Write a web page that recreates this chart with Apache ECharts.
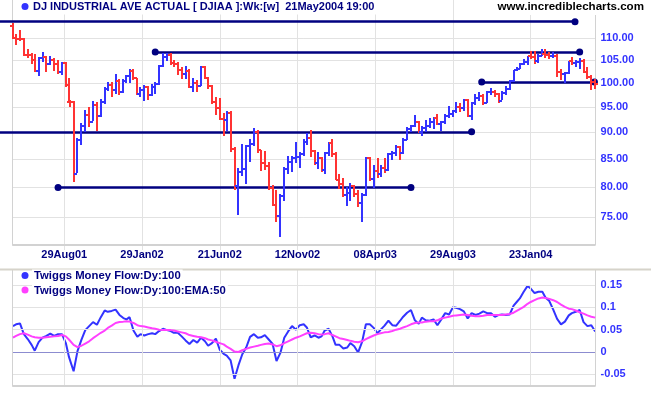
<!DOCTYPE html>
<html><head><meta charset="utf-8">
<script src="https://cdn.jsdelivr.net/npm/echarts@6/dist/echarts.min.js"></script>
<style>html,body{margin:0;padding:0;background:#fff}#c{width:651px;height:395px}</style>
</head><body><div id="c"></div>
<script>
// ---------------- DATA ----------------
const firstDay = '2001-05-21';
const lastDay = '2004-05-21';
const visibleDays = 750;
const holidays = ['2001-05-28','2001-07-04','2001-09-03','2001-09-11','2001-09-12','2001-09-13','2001-09-14',
 '2001-11-22','2001-12-25','2002-01-01','2002-01-21','2002-02-18','2002-03-29','2002-05-27','2002-07-04',
 '2002-09-02','2002-11-28','2002-12-25','2003-01-01','2003-01-20','2003-02-17','2003-04-18','2003-05-26',
 '2003-07-04','2003-09-01','2003-11-27','2003-12-25','2004-01-01','2004-01-19','2004-02-16','2004-04-09'];

const priorClose = 113.01;
const opens = [113.01,110.05,109.90,109.77,106.23,106.04,105.02,102.52,105.39,105.77,
 104.16,105.12,104.16,102.40,104.23,99.49,96.06,96.05,82.36,88.48,
 91.20,93.44,92.05,95.45,93.23,96.08,98.67,99.60,98.52,100.49,
 98.11,100.35,101.37,102.59,100.94,97.71,98.41,99.07,97.44,99.03,
 99.69,103.68,105.72,106.08,104.27,104.04,102.71,101.90,102.57,99.11,
 100.06,99.39,103.53,101.05,99.25,95.89,94.75,92.53,92.43,93.80,
 86.84,80.19,82.64,83.13,87.45,87.78,90.11,86.64,84.27,83.79,
 79.86,77.01,75.28,78.50,83.22,84.43,85.17,85.37,85.79,88.04,
 88.96,86.45,84.33,85.11,83.03,86.01,87.85,85.87,81.31,80.54,
 78.65,79.09,80.18,78.91,77.40,78.59,85.22,81.45,82.77,82.21,
 83.37,83.06,85.83,86.04,87.19,86.01,88.50,90.62,91.17,92.01,
 90.11,90.70,91.19,91.89,92.84,91.53,91.91,93.21,93.48,94.16,
 95.03,94.71,96.45,93.14,95.73,96.75,97.22,95.82,98.01,98.10,
 97.68,96.29,97.82,98.63,100.42,102.78,103.05,104.09,104.58,106.00,
 105.68,104.88,105.93,106.28,106.20,105.84,105.95,102.40,101.86,102.13,
 104.70,104.42,104.52,104.72,102.26,101.18,100.13];
const highs = [113.6,110.9,112.0,110.0,107.6,106.6,106.4,105.7,106.9,106.0,
 106.0,105.4,104.9,104.6,104.5,101.0,96.3,96.1,88.9,91.8,
 94.3,95.0,96.2,96.0,96.6,99.1,100.2,100.1,101.9,100.8,
 100.9,101.8,103.0,103.1,101.0,99.2,99.5,99.4,99.7,100.2,
 103.8,106.6,106.7,106.7,104.9,104.6,103.4,103.6,102.9,101.0,
 100.6,103.6,103.7,101.2,99.5,97.0,96.8,93.8,94.1,94.2,
 87.2,83.3,87.7,87.6,88.7,90.8,90.5,86.7,86.4,84.4,
 80.3,79.5,78.8,83.5,85.5,85.6,88.2,86.3,88.6,89.8,
 90.4,86.6,86.3,85.3,86.3,88.2,88.7,86.2,82.2,81.5,
 80.1,80.8,80.4,79.6,79.0,85.4,85.3,83.9,85.2,83.9,
 85.2,86.0,86.4,87.5,87.3,88.8,91.0,91.4,93.4,92.2,
 91.2,92.3,92.8,93.0,93.5,92.2,93.5,95.1,94.3,95.9,
 95.8,96.6,96.6,96.0,97.7,98.1,97.6,98.3,99.0,98.4,
 97.8,98.3,99.3,100.6,102.8,103.4,104.4,105.3,106.0,107.0,
 107.0,106.3,107.4,107.5,106.8,106.9,106.3,103.0,102.3,104.8,
 105.7,105.1,105.4,105.3,103.4,101.6,100.8];
const lows = [109.9,108.4,109.4,105.9,105.5,104.2,102.3,101.4,104.5,102.3,
 104.0,102.5,101.9,101.7,99.2,95.9,95.0,80.9,82.4,87.5,
 90.1,91.0,92.2,90.3,93.0,95.6,98.3,97.1,97.6,97.5,
 97.8,99.9,100.0,100.6,97.4,97.0,96.1,96.3,97.2,97.6,
 99.5,103.5,104.8,103.9,103.5,101.6,100.9,100.9,99.0,98.0,
 98.1,99.4,100.9,98.6,95.5,93.3,92.4,89.3,90.3,86.3,
 79.6,75.3,82.0,80.6,84.5,87.3,86.1,82.9,83.0,79.5,
 76.9,74.2,71.97,77.6,82.2,82.6,84.2,83.3,85.6,87.5,
 85.4,83.9,83.2,82.7,82.3,85.5,85.3,81.2,79.7,78.4,
 76.9,77.7,78.4,76.6,74.2,78.5,81.0,79.9,81.6,81.7,
 82.5,82.9,84.7,85.5,84.8,85.8,88.4,90.0,91.0,89.8,
 89.2,90.0,90.7,90.6,91.3,90.3,91.6,92.8,92.9,93.8,
 94.0,94.1,92.9,92.4,95.4,96.2,95.3,95.8,97.4,97.1,
 95.7,96.3,97.4,98.5,100.1,102.5,102.9,103.9,104.0,105.3,
 104.2,104.3,105.8,105.5,105.3,105.4,101.3,100.7,100.0,102.0,
 104.0,103.4,102.9,102.2,100.9,98.5,98.6];
const closes = [110.05,109.90,109.77,106.23,106.04,105.02,102.52,105.39,105.77,104.16,
 105.12,104.16,102.40,104.23,99.49,96.06,96.05,82.36,88.48,91.20,
 93.44,92.05,95.45,93.23,96.08,98.67,99.60,98.52,100.49,98.11,
 100.35,101.37,102.59,100.94,97.71,98.41,99.07,97.44,99.03,99.69,
 103.68,105.72,106.08,104.27,104.04,102.71,101.90,102.57,99.11,100.06,
 99.39,103.53,101.05,99.25,95.89,94.75,92.53,92.43,93.80,86.84,
 80.19,82.64,83.13,87.45,87.78,90.11,86.64,84.27,83.79,79.86,
 77.01,75.28,78.50,83.22,84.43,85.17,85.37,85.79,88.04,88.96,
 86.45,84.33,85.11,83.03,86.01,87.85,85.87,81.31,80.54,78.65,
 79.09,80.18,78.91,77.40,78.59,85.22,81.45,82.77,82.21,83.37,
 83.06,85.83,86.04,87.19,86.01,88.50,90.62,91.17,92.01,90.11,
 90.70,91.19,91.89,92.84,91.53,91.91,93.21,93.48,94.16,95.03,
 94.71,96.45,93.14,95.73,96.75,97.22,95.82,98.01,98.10,97.68,
 96.29,97.82,98.63,100.42,102.78,103.05,104.09,104.58,106.00,105.68,
 104.88,105.93,106.28,106.20,105.84,105.95,102.40,101.86,102.13,104.70,
 104.42,104.52,104.72,102.26,101.18,100.13,99.66];

const moneyFlow = [0.058,0.062,0.064,0.040,0.029,0.016,0.003,0.022,0.032,0.036,
 0.041,0.036,0.040,0.040,0.020,-0.011,-0.015,-0.043,0.002,0.027,
 0.049,0.058,0.067,0.061,0.078,0.093,0.090,0.092,0.095,0.083,
 0.076,0.073,0.078,0.048,0.034,0.040,0.037,0.040,0.042,0.040,
 0.047,0.052,0.049,0.047,0.043,0.043,0.035,0.026,0.018,0.027,
 0.021,0.032,0.024,0.014,0.020,0.030,0.005,-0.004,-0.008,-0.019,
 -0.060,-0.030,-0.005,0.010,0.034,0.040,0.032,0.033,0.038,0.028,
 0.018,-0.020,-0.002,0.032,0.046,0.058,0.050,0.060,0.062,0.055,
 0.033,0.037,0.032,0.035,0.048,0.052,0.035,0.016,0.016,0.008,
 0.010,0.020,0.013,-0.001,0.022,0.062,0.062,0.054,0.042,0.050,
 0.059,0.070,0.060,0.059,0.070,0.079,0.088,0.094,0.071,0.063,
 0.077,0.071,0.070,0.073,0.060,0.073,0.087,0.084,0.100,0.099,
 0.096,0.091,0.075,0.087,0.083,0.086,0.091,0.087,0.087,0.079,
 0.083,0.084,0.083,0.084,0.104,0.112,0.120,0.135,0.148,0.142,
 0.132,0.135,0.135,0.122,0.114,0.095,0.074,0.062,0.068,0.082,
 0.087,0.090,0.094,0.067,0.058,0.060,0.046];
const moneyFlowEma = [0.032,0.036,0.040,0.042,0.039,0.035,0.033,0.032,0.032,0.033,
 0.034,0.035,0.036,0.038,0.035,0.028,0.027,0.016,0.011,0.014,
 0.019,0.024,0.031,0.037,0.043,0.048,0.054,0.059,0.065,0.067,
 0.068,0.069,0.068,0.065,0.060,0.058,0.057,0.055,0.053,0.052,
 0.050,0.049,0.049,0.049,0.048,0.046,0.044,0.042,0.038,0.036,
 0.034,0.033,0.031,0.028,0.026,0.023,0.020,0.017,0.012,0.007,
 0.001,0.000,0.004,0.007,0.010,0.012,0.014,0.016,0.018,0.019,
 0.017,0.013,0.015,0.020,0.024,0.028,0.032,0.035,0.039,0.042,
 0.043,0.042,0.040,0.039,0.040,0.042,0.038,0.035,0.031,0.029,
 0.027,0.025,0.023,0.022,0.024,0.029,0.033,0.037,0.040,0.042,
 0.044,0.045,0.047,0.050,0.052,0.055,0.058,0.062,0.065,0.066,
 0.066,0.068,0.069,0.069,0.071,0.075,0.077,0.079,0.081,0.082,
 0.083,0.084,0.083,0.081,0.080,0.080,0.081,0.083,0.083,0.083,
 0.083,0.083,0.084,0.085,0.088,0.092,0.096,0.101,0.108,0.112,
 0.116,0.120,0.122,0.121,0.119,0.116,0.112,0.106,0.101,0.097,
 0.096,0.093,0.089,0.086,0.082,0.079,0.077];

const xTickDates = ['2001-08-29','2002-01-29','2002-06-21','2002-11-12','2003-04-08','2003-08-29','2004-01-23'];
const xTickLabels = ['29Aug01','29Jan02','21Jun02','12Nov02','08Apr03','29Aug03','23Jan04'];
const priceTicks = [75,80,85,90,95,100,105,110];
const flowTicks = [-0.05,0,0.05,0.1,0.15];
const trendLines = [
  {from: null, to: '2004-04-15', value: 113.97, dotFrom: false, dotTo: true},
  {from: '2002-02-22', to: '2004-04-23', value: 106.8, dotFrom: true, dotTo: true},
  {from: null, to: '2003-10-03', value: 90.05, dotFrom: false, dotTo: true},
  {from: '2001-08-17', to: '2003-06-13', value: 79.96, dotFrom: true, dotTo: true},
  {from: '2003-10-22', to: '2004-05-20', value: 100.2, dotFrom: true, dotTo: true}
];
const titleText = 'DJ INDUSTRIAL AVE ACTUAL [ DJIAA ]:Wk:[w]  21May2004 19:00';
const siteText = 'www.incrediblecharts.com';
const legendNames = ['Twiggs Money Flow:Dy:100', 'Twiggs Money Flow:Dy:100:EMA:50'];

// ---------------- CALENDAR ----------------
function iso(d){ return d.toISOString().slice(0,10); }
const hol = new Set(holidays);
const tradingDays = [];
for (let d = new Date(firstDay + 'T00:00:00Z'); iso(d) <= lastDay; d.setUTCDate(d.getUTCDate() + 1)) {
  const wd = d.getUTCDay();
  if (wd === 0 || wd === 6) continue;
  const s = iso(d);
  if (hol.has(s)) continue;
  tradingDays.push(s);
}
const dayIndex = new Map(tradingDays.map((s, i) => [s, i]));
const weekEnds = [];
for (let i = 0; i < tradingDays.length; i++) {
  const cur = new Date(tradingDays[i] + 'T00:00:00Z');
  if (i + 1 === tradingDays.length) { weekEnds.push(i); break; }
  const nxt = new Date(tradingDays[i + 1] + 'T00:00:00Z');
  if (nxt.getUTCDay() <= cur.getUTCDay() || (nxt - cur) >= 7 * 864e5) weekEnds.push(i);
}
const lastIdx = tradingDays.length - 1;
const tickDays = xTickDates.map(d => dayIndex.get(d));
const tickLabelMap = new Map(tickDays.map((d, i) => [d, xTickLabels[i]]));

// ---------------- LAYOUT / STYLE ----------------
const PLOT_LEFT = 12.2, PLOT_RIGHT = 595.6;
const X_START = lastIdx - visibleDays;
const X_MAX = lastIdx + 0.5;
const X_MIN = X_START - PLOT_LEFT * (X_MAX - X_START) / (PLOT_RIGHT - PLOT_LEFT);
const BLUE = '#3333ff', RED = '#ff3333', NAVY = '#000080', MAG = '#ff40ff';
const GRIDC = '#e2e2e2', FRAMEC = '#d2d2d2', TREND = '#000080';
const FONT = '"Liberation Sans", Arial, sans-serif';
const Y_MIN = 70.69, Y_MAX = 119.39, F_MIN = -0.0761, F_MAX = 0.1836;

const ohlc = weekEnds.map((di, i) => {
  const prev = i === 0 ? priorClose : closes[i - 1];
  return [di, opens[i], highs[i], lows[i], closes[i], closes[i] >= prev ? 1 : 0];
});
const flowData = weekEnds.map((di, i) => [di, moneyFlow[i]]);
const emaData = weekEnds.map((di, i) => [di, moneyFlowEma[i]]);

const labelStyle = {show: true, position: 'end', distance: 5, color: BLUE, fontWeight: 'bold', fontSize: 11, fontFamily: FONT};
function hLine(v, txt, color) {
  return [{coord: [X_START, v], label: txt == null ? {show: false} : Object.assign({}, labelStyle, {formatter: txt}),
           lineStyle: {color: color || GRIDC, width: 1, type: 'solid'}}, {coord: [X_MAX, v]}];
}
function vLine(x, y0, y1, color, w) {
  return [{coord: [x, y0], label: {show: false}, lineStyle: {color: color || GRIDC, width: w || 1, type: 'solid'}}, {coord: [x, y1]}];
}
function panelLines(ticks, fmt, yMin, yMax, zeroColor) {
  const out = ticks.map(v => hLine(v, fmt(v), v === 0 && zeroColor ? zeroColor : GRIDC));
  tickDays.forEach(d => out.push(vLine(d, yMin, yMax)));
  out.push(vLine(X_START, yMin, yMax, FRAMEC, 1), vLine(X_MAX, yMin, yMax, FRAMEC, 1));
  out.push([{coord: [X_START, yMin], label: {show: false}, lineStyle: {color: FRAMEC, width: 2, type: 'solid'}}, {coord: [X_MAX, yMin]}]);
  return out;
}
const topGrid = panelLines(priceTicks, v => v.toFixed(2), Y_MIN, Y_MAX, null);
const botGrid = panelLines(flowTicks, v => String(v), F_MIN, F_MAX, '#8c8cd0');

const trendData = trendLines.map(t => {
  const x0 = t.from == null ? X_MIN : dayIndex.get(t.from);
  const x1 = dayIndex.get(t.to);
  return [{coord: [x0, t.value], symbol: t.dotFrom ? 'circle' : 'none'},
          {coord: [x1, t.value], symbol: t.dotTo ? 'circle' : 'none'}];
});

const xAxisBase = {
  type: 'value', min: X_MIN, max: X_MAX,
  axisLine: {show: false},
  axisTick: {show: true, length: 5, customValues: tickDays, lineStyle: {color: GRIDC, width: 1}},
  splitLine: {show: false}
};

const chart = echarts.init(document.getElementById('c'), null, {renderer: 'canvas'});
chart.setOption({
  animation: false,
  backgroundColor: '#ffffff',
  textStyle: {fontFamily: FONT},
  grid: [
    {left: 0, right: 651 - PLOT_RIGHT, top: 0, height: 245},
    {left: 0, right: 651 - PLOT_RIGHT, top: 270, height: 116}
  ],
  xAxis: [
    Object.assign({}, xAxisBase, {gridIndex: 0,
      axisLabel: {show: true, margin: 4, color: NAVY, fontWeight: 'bold', fontSize: 11, fontFamily: FONT,
        customValues: tickDays, formatter: v => tickLabelMap.get(Math.round(v)) || ''}}),
    Object.assign({}, xAxisBase, {gridIndex: 1, axisLabel: {show: false}})
  ],
  yAxis: [
    {type: 'log', logBase: 10, gridIndex: 0, min: Y_MIN, max: Y_MAX, show: false},
    {type: 'value', gridIndex: 1, min: F_MIN, max: F_MAX, show: false}
  ],
  series: [
    {type: 'line', name: 'topGrid', xAxisIndex: 0, yAxisIndex: 0, data: [], z: 1, silent: true,
      markLine: {silent: true, symbol: ['none', 'none'], animation: false, data: topGrid}},
    {type: 'custom', name: 'DJIAA', xAxisIndex: 0, yAxisIndex: 0, z: 5, silent: true,
      encode: {x: 0, y: [1, 2, 3, 4]},
      data: ohlc,
      renderItem: function (params, api) {
        const x = api.value(0);
        const pO = api.coord([x, api.value(1)]);
        const pH = api.coord([x, api.value(2)]);
        const pL = api.coord([x, api.value(3)]);
        const pC = api.coord([x, api.value(4)]);
        const color = api.value(5) > 0 ? BLUE : RED;
        const px = Math.round(pH[0]);
        const oy = Math.round(pO[1]);
        const cy = Math.round(pC[1]);
        const st = {stroke: color, lineWidth: 2};
        return {type: 'group', children: [
          {type: 'line', shape: {x1: px, y1: Math.round(pH[1]), x2: px, y2: Math.round(pL[1])}, style: st},
          {type: 'line', shape: {x1: px - 3, y1: oy, x2: px, y2: oy}, style: st},
          {type: 'line', shape: {x1: px, y1: cy, x2: px + 3, y2: cy}, style: st}
        ]};
      }},
    {type: 'line', name: 'trend', xAxisIndex: 0, yAxisIndex: 0, data: [], z: 6, silent: true,
      markLine: {silent: true, animation: false, symbolSize: 7, label: {show: false},
        lineStyle: {color: TREND, width: 2.5, type: 'solid'},
        itemStyle: {color: TREND}, data: trendData}},
    {type: 'line', name: 'botGrid', xAxisIndex: 1, yAxisIndex: 1, data: [], z: 1, silent: true,
      markLine: {silent: true, symbol: ['none', 'none'], animation: false, data: botGrid}},
    {type: 'line', name: legendNames[0], xAxisIndex: 1, yAxisIndex: 1, data: flowData, z: 4,
      showSymbol: false, symbol: 'none', lineStyle: {color: BLUE, width: 2}, silent: true},
    {type: 'line', name: legendNames[1], xAxisIndex: 1, yAxisIndex: 1, data: emaData, z: 5,
      showSymbol: false, symbol: 'none', lineStyle: {color: MAG, width: 2}, silent: true}
  ],
  graphic: [
    {type: 'rect', z: 50, shape: {x: 0, y: 268.5, width: 651, height: 2}, style: {fill: '#d6d3ca'}},
    {type: 'circle', z: 60, shape: {cx: 25, cy: 6.5, r: 3.5}, style: {fill: BLUE}},
    {type: 'text', z: 60, x: 31, y: 7, style: {text: titleText, fill: NAVY, font: 'bold 11px ' + FONT,
      align: 'left', verticalAlign: 'middle', backgroundColor: '#fff', padding: [2, 2]}},
    {type: 'text', z: 60, x: 646, y: 7, style: {text: siteText, fill: '#000', font: 'bold 11.6px ' + FONT,
      align: 'right', verticalAlign: 'middle', backgroundColor: '#fff', padding: [2, 2]}},
    {type: 'circle', z: 60, shape: {cx: 25, cy: 275.5, r: 3.5}, style: {fill: BLUE}},
    {type: 'text', z: 60, x: 32, y: 276, style: {text: legendNames[0], fill: NAVY, font: 'bold 11.3px ' + FONT,
      align: 'left', verticalAlign: 'middle', backgroundColor: '#fff', padding: [1, 2]}},
    {type: 'circle', z: 60, shape: {cx: 25, cy: 290, r: 3.5}, style: {fill: MAG}},
    {type: 'text', z: 60, x: 32, y: 290.5, style: {text: legendNames[1], fill: NAVY, font: 'bold 11.3px ' + FONT,
      align: 'left', verticalAlign: 'middle', backgroundColor: '#fff', padding: [1, 2]}}
  ]
});
</script>
</body></html>
